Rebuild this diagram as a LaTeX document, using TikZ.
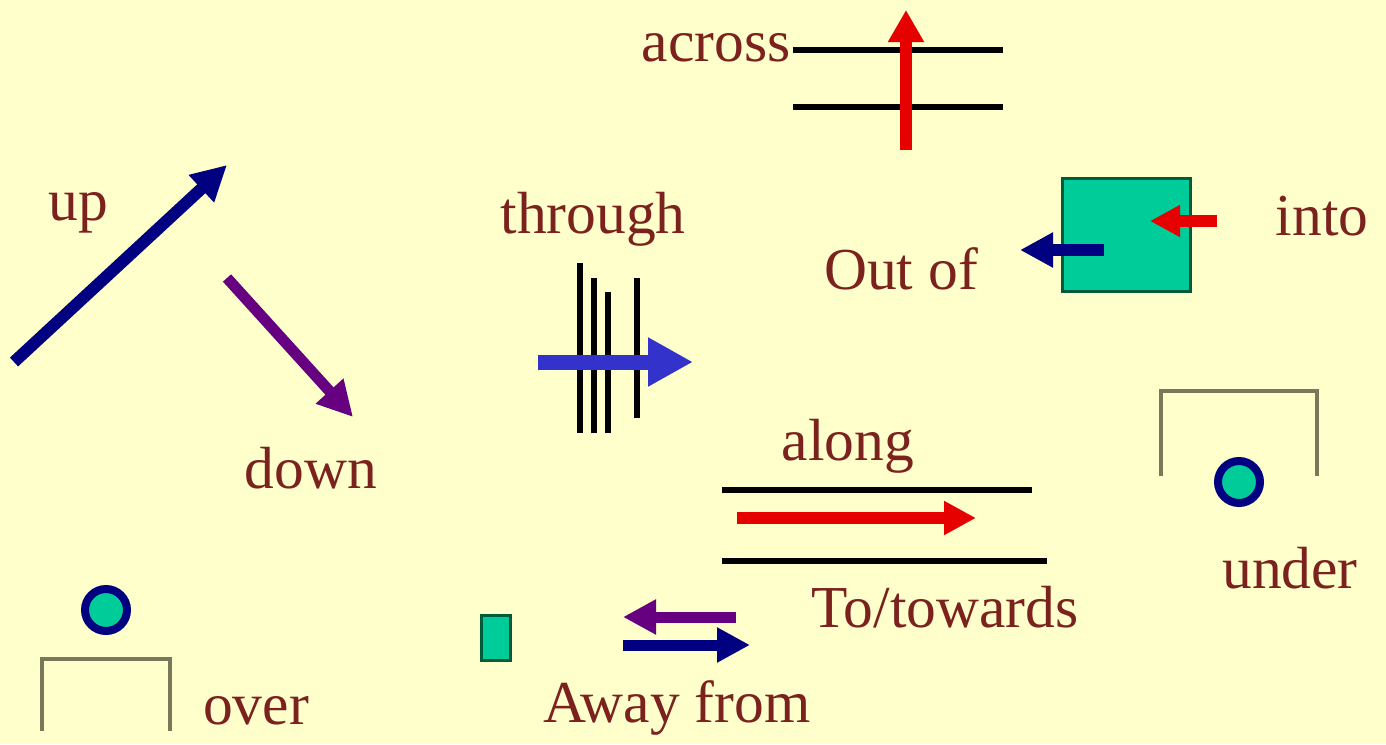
\documentclass[tikz,border=0pt]{standalone}
\usepackage{fontspec}
\setmainfont{Liberation Serif}
\usetikzlibrary{arrows.meta}
\definecolor{bg}{RGB}{255,255,204}
\definecolor{txt}{RGB}{124,34,30}
\definecolor{navy}{RGB}{0,0,128}
\definecolor{purp}{RGB}{102,0,128}
\definecolor{redc}{RGB}{230,0,0}
\definecolor{lblue}{RGB}{51,51,204}
\definecolor{teal}{RGB}{0,204,153}
\definecolor{boxedge}{RGB}{0,90,60}
\definecolor{brk}{RGB}{120,120,90}
\tikzset{
  lbl/.style={text=txt, font=\fontsize{59.5}{66}\selectfont, inner sep=0pt},
  blk/.style={draw=black, line width=6.5pt},
  arr/.style={line width=12pt, -{Triangle[length=35pt,width=35pt]}},
  brack/.style={draw=brk, line width=4pt},
  ball/.style={circle, draw=navy, line width=8pt, fill=teal, minimum size=42pt, inner sep=0pt},
}
\begin{document}
\begin{tikzpicture}[x=1pt,y=-1pt]
\useasboundingbox (0,0) rectangle (1386,744);
\fill[bg] (0,0) rectangle (1386,744);

% across
\node[lbl] (across) at (716,48) {across};
\coordinate (a1l) at (793,50); \coordinate (a1r) at (1003,50);
\coordinate (a2l) at (793,107); \coordinate (a2r) at (1003,107);
\draw[blk] (a1l) -- (a1r);
\draw[blk] (a2l) -- (a2r);
\coordinate (acs) at (906,150); \coordinate (ace) at (906,10);
\draw[redc, line width=12pt, -{Triangle[length=32pt,width=34pt]}] (acs) -- (ace);

% up / down
\node[lbl] (up) at (78,213) {up};
\coordinate (ups) at (14,362); \coordinate (upe) at (227,165);
\draw[arr, navy] (ups) -- (upe);
\coordinate (dns) at (227,278); \coordinate (dne) at (353,417);
\draw[arr, purp, line width=11pt] (dns) -- (dne);
\node[lbl] (down) at (311,468) {down};

% through
\node[lbl] (through) at (593,219) {through};
\coordinate (t1a) at (580,263); \coordinate (t1b) at (580,433);
\coordinate (t2a) at (594,278); \coordinate (t2b) at (594,433);
\coordinate (t3a) at (608,292); \coordinate (t3b) at (608,433);
\coordinate (t4a) at (637,278); \coordinate (t4b) at (637,418);
\draw[blk, line width=6pt] (t1a) -- (t1b);
\draw[blk, line width=6pt] (t2a) -- (t2b);
\draw[blk, line width=6pt] (t3a) -- (t3b);
\draw[blk, line width=6pt] (t4a) -- (t4b);
\coordinate (ths) at (538,362); \coordinate (the) at (693,362);
\draw[lblue, line width=15pt, -{Triangle[length=45pt,width=46pt]}] (ths) -- (the);

% into / out of
\node[draw=boxedge, fill=teal, line width=3pt, minimum width=128pt, minimum height=113pt, inner sep=0pt] (box) at (1126,235) {};
\coordinate (ins) at (1217,221); \coordinate (ine) at (1150,221);
\draw[redc, line width=12pt, -{Triangle[length=30pt,width=30pt]}] (ins) -- (ine);
\coordinate (outs) at (1104,250); \coordinate (oute) at (1020,250);
\draw[navy, line width=12pt, -{Triangle[length=33pt,width=33pt]}] (outs) -- (oute);
\node[lbl] (into) at (1322,216) {into};
\node[lbl] (outof) at (901,269) {Out of};

% along / to-towards
\node[lbl] (along) at (848,446) {along};
\coordinate (l1a) at (722,490); \coordinate (l1b) at (1032,490);
\coordinate (l2a) at (722,561); \coordinate (l2b) at (1047,561);
\draw[blk] (l1a) -- (l1b);
\draw[blk] (l2a) -- (l2b);
\coordinate (als) at (737,518); \coordinate (ale) at (976,518);
\draw[redc, line width=12pt, -{Triangle[length=32pt,width=32pt]}] (als) -- (ale);
\node[lbl] (towards) at (945,607) {To/towards};

% under
\coordinate (u1) at (1161,476); \coordinate (u2) at (1161,391);
\coordinate (u3) at (1317,391); \coordinate (u4) at (1317,476);
\draw[brack] (u1) -- (u2) -- (u3) -- (u4);
\node[ball] (uball) at (1239,482) {};
\node[lbl] (under) at (1290,568) {under};

% over
\node[ball] (oball) at (106,610) {};
\coordinate (o1) at (42,731); \coordinate (o2) at (42,659);
\coordinate (o3) at (170,659); \coordinate (o4) at (170,731);
\draw[brack] (o1) -- (o2) -- (o3) -- (o4);
\node[lbl] (over) at (256,711) {over};

% away from
\node[draw=boxedge, fill=teal, line width=3pt, minimum width=29pt, minimum height=45pt, inner sep=0pt] (sbox) at (496,638) {};
\coordinate (aws) at (736,617); \coordinate (awe) at (623,617);
\draw[purp, line width=11pt, -{Triangle[length=33pt,width=33pt]}] (aws) -- (awe);
\coordinate (tws) at (623,645); \coordinate (twe) at (750,645);
\draw[navy, line width=11pt, -{Triangle[length=33pt,width=33pt]}] (tws) -- (twe);
\node[lbl] (away) at (677,708) {Away from};
\end{tikzpicture}
\end{document}
